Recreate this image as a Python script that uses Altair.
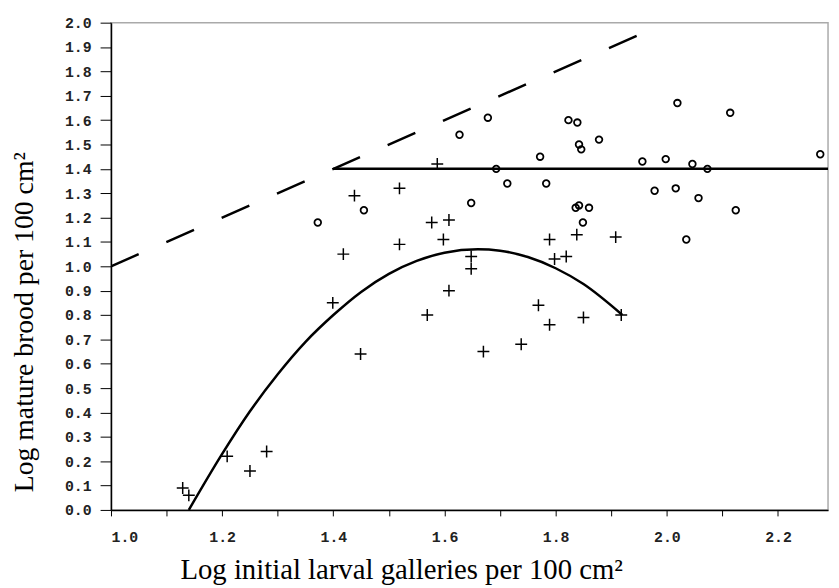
import altair as alt
import pandas as pd

# Open circles ("o")
circle_x = [1.372, 1.455, 1.627, 1.678, 1.648, 1.693, 1.713, 1.772, 1.783, 1.823,
            1.839, 1.842, 1.846, 1.878, 1.836, 1.842, 1.860, 1.849, 1.956, 1.978,
            1.998, 2.016, 2.019, 2.035, 2.046, 2.057, 2.073, 2.114, 2.124, 2.276]
circle_y = [1.18, 1.23, 1.54, 1.61, 1.26, 1.40, 1.34, 1.45, 1.34, 1.60,
            1.59, 1.50, 1.48, 1.52, 1.24, 1.25, 1.24, 1.18, 1.43, 1.31,
            1.44, 1.32, 1.67, 1.11, 1.42, 1.28, 1.40, 1.63, 1.23, 1.46]

# Plus signs ("+")
plus_x = [1.129, 1.140, 1.209, 1.250, 1.280, 1.399, 1.418, 1.438, 1.449, 1.519,
          1.519, 1.569, 1.577, 1.587, 1.598, 1.608, 1.608, 1.648, 1.648, 1.670,
          1.738, 1.769, 1.789, 1.789, 1.798, 1.819, 1.838, 1.850, 1.908, 1.918]
plus_y = [0.09, 0.06, 0.22, 0.16, 0.24, 0.85, 1.05, 1.29, 0.64, 1.32,
          1.09, 0.80, 1.18, 1.42, 1.11, 1.19, 0.90, 1.04, 0.99, 0.65,
          0.68, 0.84, 1.11, 0.76, 1.03, 1.04, 1.13, 0.79, 1.12, 0.80]

# Fitted curve
curve_x = [1.14, 1.20, 1.25, 1.30, 1.35, 1.40, 1.45, 1.50, 1.55, 1.60, 1.66,
           1.70, 1.75, 1.80, 1.85, 1.92]
curve_y = [0.00, 0.23, 0.405, 0.557, 0.69, 0.80, 0.895, 0.969, 1.022, 1.056, 1.07,
           1.064, 1.038, 0.992, 0.927, 0.80]

# Dashed 1:1 line and solid horizontal line
dash_x = [1.0, 1.95]
dash_y = [1.0, 1.95]
flat_x = [1.4, 2.29]
flat_y = [1.4, 1.4]

x_ticks = [1.0, 1.1, 1.2, 1.3, 1.4, 1.5, 1.6, 1.7, 1.8, 1.9, 2.0, 2.1, 2.2]
y_ticks = [round(i * 0.1, 1) for i in range(21)]

circles = pd.DataFrame({"x": circle_x, "y": circle_y})
pluses = pd.DataFrame({"x": plus_x, "y": plus_y})
curve = pd.DataFrame({"x": curve_x, "y": curve_y})
dash = pd.DataFrame({"x": dash_x, "y": dash_y})
flat = pd.DataFrame({"x": flat_x, "y": flat_y})

LABEL_FONT = "Liberation Mono"
TITLE_FONT = "Liberation Serif"

xscale = alt.Scale(domain=[1.0, 2.29], nice=False, zero=False)
yscale = alt.Scale(domain=[0.0, 2.0], nice=False, zero=True)

xaxis = alt.Axis(
    title="Log initial larval galleries per 100 cm²",
    values=x_ticks,
    labelExpr="round(datum.value*10) % 2 == 0 ? format(datum.value, '.1f') : ''",
    grid=False, tickSize=6, tickColor="black", domainColor="black",
    domainWidth=1.5, labelFont=LABEL_FONT, labelFontSize=15, labelColor="#222",
    labelPadding=14, labelFontWeight="bold", labelOverlap=False,
    titleFont=TITLE_FONT, titleFontSize=29, titleFontWeight="normal", titleColor="black",
    titleX=293, titleY=69, titleAlign="center", titleBaseline="alphabetic",
)
yaxis = alt.Axis(
    title="Log mature brood per 100 cm²",
    values=y_ticks, format=".1f",
    grid=False, tickSize=11, tickColor="black", domainColor="black",
    domainWidth=1.5, labelFont=LABEL_FONT, labelFontSize=15, labelColor="#222",
    labelPadding=9, labelFontWeight="bold", labelOverlap=False,
    titleFont=TITLE_FONT, titleFontSize=28, titleFontWeight="normal", titleColor="black",
    titleX=-79, titleY=302, titleAlign="center", titleBaseline="alphabetic", titleAngle=270,
)

X = alt.X("x:Q", scale=xscale, axis=xaxis)
Y = alt.Y("y:Q", scale=yscale, axis=yaxis)

dash_layer = alt.Chart(dash).mark_line(
    color="black", strokeWidth=2.5, strokeDash=[30.5, 30.5], clip=True
).encode(x=X, y=Y)

flat_layer = alt.Chart(flat).mark_line(
    color="black", strokeWidth=2.5, clip=True
).encode(x=X, y=Y)

curve_layer = alt.Chart(curve).mark_line(
    color="black", strokeWidth=2.5, interpolate="monotone", clip=True
).encode(x=X, y=Y)

circle_layer = alt.Chart(circles).mark_point(
    shape="circle", size=45, filled=False, color="black", strokeWidth=1.8, opacity=1
).encode(x=X, y=Y)

plus_layer = alt.Chart(pluses).mark_point(
    shape="M-1,0H1M0,-1V1", size=144, filled=False, color="black", strokeWidth=1.5, opacity=1
).encode(x=X, y=Y)

chart = alt.layer(dash_layer, flat_layer, curve_layer, circle_layer, plus_layer).properties(
    width=724, height=492,
    autosize=alt.AutoSizeParams(type="none"),
    padding={"left": 104, "top": 12, "right": 3, "bottom": 76},
    background="white",
).configure_view(stroke="#aaaaaa", strokeWidth=1.5)

chart.save("out.html", embed_options={"renderer": "svg", "actions": False})
